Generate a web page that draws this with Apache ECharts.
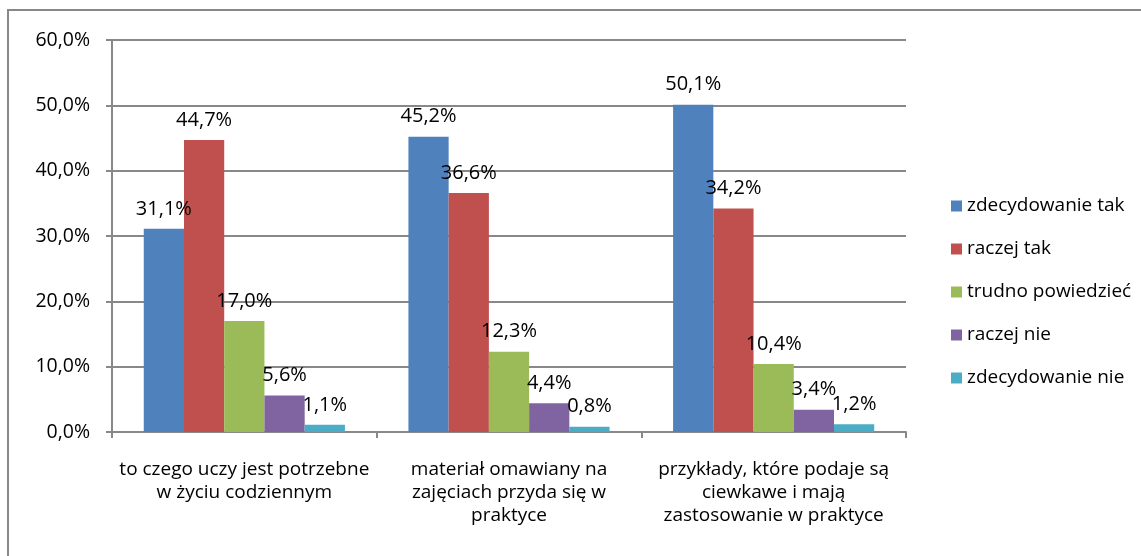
<!DOCTYPE html>
<html>
<head>
<meta charset="utf-8">
<script src="https://cdn.jsdelivr.net/npm/echarts@6/dist/echarts.min.js"></script>
<style>
  html, body { margin: 0; padding: 0; background: #fff; }
  #chart { width: 1141px; height: 556px; }
</style>
</head>
<body>
<div id="chart"></div>
<script>
const categories = [
  'to czego uczy jest potrzebne\nw życiu codziennym',
  'materiał omawiany na\nzajęciach przyda się w\npraktyce',
  'przykłady, które podaje są\nciewkawe i mają\nzastosowanie w praktyce'
]
const seriesNames = ['zdecydowanie tak', 'raczej tak', 'trudno powiedzieć', 'raczej nie', 'zdecydowanie nie']
const zdecydowanieTak = [31.1, 45.2, 50.1]
const raczejTak = [44.7, 36.6, 34.2]
const trudnoPowiedziec = [17.0, 12.3, 10.4]
const raczejNie = [5.6, 4.4, 3.4]
const zdecydowanieNie = [1.1, 0.8, 1.2]
const colors = ['#4F81BD', '#C0504D', '#9BBB59', '#8064A2', '#4BACC6']

const font = '"Open Sans", sans-serif'
const fmt = (v) => v.toFixed(1).replace('.', ',') + '%'

const chart = echarts.init(document.getElementById('chart'))
const allValues = [zdecydowanieTak, raczejTak, trudnoPowiedziec, raczejNie, zdecydowanieNie]

chart.setOption({
  animation: false,
  color: colors,
  // outer chart-area frame (only top and left edges are inside the picture)
  graphic: [{
    type: 'polyline',
    shape: { points: [[8, 600], [8, 10], [1200, 10]] },
    style: { stroke: '#888', lineWidth: 2, fill: null }
  }],
  grid: { left: 112, right: 235, top: 40, bottom: 124 },
  legend: {
    orient: 'vertical',
    left: 946,
    top: 191,
    itemWidth: 11,
    itemHeight: 11,
    itemGap: 23,
    icon: 'rect',
    textStyle: { fontFamily: font, fontSize: 19, lineHeight: 20, color: '#000' },
    data: seriesNames
  },
  xAxis: {
    type: 'category',
    data: categories,
    axisLine: { lineStyle: { color: '#888', width: 2 } },
    axisTick: { show: true, length: 6, lineStyle: { color: '#888', width: 2 } },
    axisLabel: {
      fontFamily: font, fontSize: 19, color: '#000',
      lineHeight: 23, margin: 26, interval: 0
    }
  },
  yAxis: {
    type: 'value',
    min: 0,
    max: 60,
    interval: 10,
    axisLine: { show: true, lineStyle: { color: '#888', width: 2 } },
    axisTick: { show: true, length: 6, lineStyle: { color: '#888', width: 2 } },
    splitLine: { lineStyle: { color: '#888', width: 2 } },
    axisLabel: {
      fontFamily: font, fontSize: 19.5, color: '#000', margin: 22,
      formatter: (v) => fmt(v)
    }
  },
  series: allValues.map((vals, i) => ({
    name: seriesNames[i],
    type: 'bar',
    data: vals,
    barGap: '0%',
    barCategoryGap: '24%',
    label: {
      show: true,
      position: 'top',
      distance: 10,
      fontFamily: font,
      fontSize: 20,
      color: '#000',
      formatter: (p) => fmt(p.value)
    }
  }))
})
</script>
</body>
</html>
